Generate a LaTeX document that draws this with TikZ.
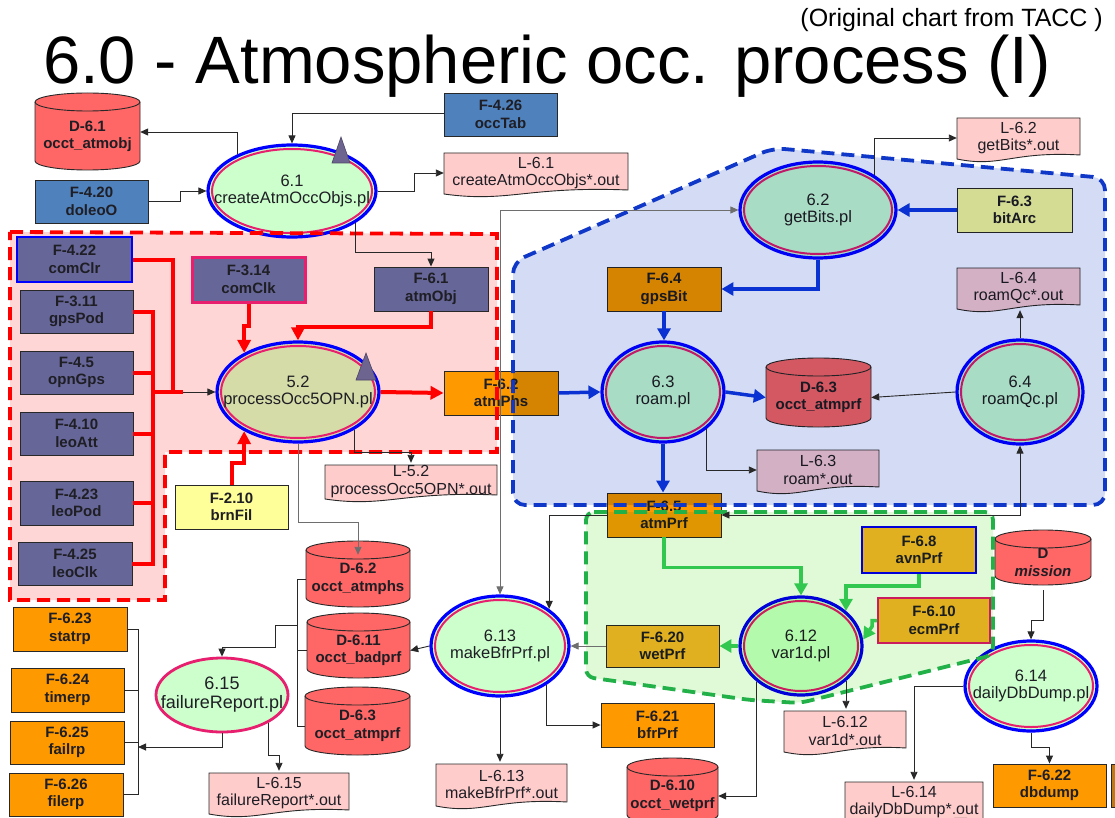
\documentclass[tikz,border=0pt]{standalone}
\usepackage{fontspec}
\setmainfont{Liberation Sans}
\usetikzlibrary{arrows.meta,calc,shapes.geometric}

\definecolor{pinkzone}{RGB}{255,214,214}
\definecolor{bluezone}{RGB}{212,220,245}
\definecolor{greenzone}{RGB}{224,250,216}
\definecolor{zonered}{RGB}{255,0,0}
\definecolor{zoneblue}{RGB}{16,56,200}
\definecolor{zonegreen}{RGB}{34,176,72}
\definecolor{fblue}{RGB}{79,129,189}
\definecolor{slate}{RGB}{102,102,153}
\definecolor{dbred}{RGB}{255,102,102}
\definecolor{docpink}{RGB}{255,204,204}
\definecolor{procgreen}{RGB}{204,255,204}
\definecolor{khaki}{RGB}{214,220,168}
\definecolor{fyellow}{RGB}{255,255,153}
\definecolor{forange}{RGB}{255,153,0}
\definecolor{fgold}{RGB}{255,180,38}
\definecolor{ringblue}{RGB}{0,0,255}
\definecolor{ringred}{RGB}{232,30,110}
\definecolor{tri}{RGB}{110,100,144}
\definecolor{ink}{RGB}{30,30,36}
\definecolor{wire}{RGB}{40,40,40}
\definecolor{greywire}{RGB}{110,110,110}
\definecolor{redwire}{RGB}{255,0,0}
\definecolor{bluewire}{RGB}{10,50,210}
\definecolor{greenwire}{RGB}{50,200,80}

\tikzset{
  boxfont/.style={font=\bfseries\fontsize{15}{17.5}\selectfont},
  procfont/.style={font=\fontsize{16.5}{17.5}\selectfont},
  docfont/.style={font=\fontsize{16}{17.5}\selectfont},
  fbox/.style={rectangle, draw=wire, line width=0.9pt, inner sep=0pt, align=center, text=ink, boxfont},
  dbline/.style={draw=wire, line width=0.9pt},
  dbtext/.style={rectangle, inner sep=0pt, align=center, text=ink, boxfont},
  docline/.style={draw=wire, line width=0.9pt},
  doctext/.style={rectangle, inner sep=0pt, align=center, text=ink, docfont},
  procshape/.style={ellipse, draw=ringblue, line width=3.2pt, inner sep=0pt},
  ringin/.style={draw=ringred, line width=2pt},
  proctext/.style={inner sep=0pt, align=center, text=ink, procfont},
  wireline/.style={draw=wire, line width=0.9pt},
  conn/.style={draw=wire, line width=0.9pt, -{Triangle[length=8pt,width=7pt]}},
  biconn/.style={draw=wire, line width=0.9pt, {Triangle[length=8pt,width=7pt]}-{Triangle[length=8pt,width=7pt]}},
  redw/.style={draw=redwire, line width=4pt},
  redarr/.style={draw=redwire, line width=4pt, -{Triangle[length=13pt,width=13pt]}},
  bluearr/.style={draw=bluewire, line width=3.5pt, -{Triangle[length=12pt,width=13pt]}},
  greenarr/.style={draw=greenwire, line width=3.5pt, -{Triangle[length=12pt,width=13pt]}},
  zone/.style={line width=3.8pt, dash pattern=on 13pt off 7pt},
  marker/.style={fill=tri, draw=tri!70!black, line width=0.6pt}
}

% rectangle file box: name, x1, y1, x2, y2, extra style, text
\newcommand\fnode[7]{%
  \node[fbox, #6, minimum width={#4-#2}, minimum height={#5-#3}] (#1) at ({(#2+#4)/2},{(#3+#5)/2}) {#7};}

% database cylinder: name, x1, y1, x2, y2, fill, text
\newcommand\dbnode[7]{%
  \pgfmathsetmacro\dbrx{(#4-#2)/2}%
  \filldraw[dbline, fill=#6] (#2,#3+9) -- (#2,#5-9)
     arc[start angle=180, end angle=360, x radius=\dbrx pt, y radius=9pt]
     -- (#4,#3+9)
     arc[start angle=0, end angle=180, x radius=\dbrx pt, y radius=9pt] -- cycle;
  \draw[dbline] (#2,#3+9) arc[start angle=180, end angle=360, x radius=\dbrx pt, y radius=9pt];
  \node[dbtext, minimum width={#4-#2}, minimum height={#5-#3}] (#1) at ({(#2+#4)/2},{(#3+#5)/2+5}) {#7};}

% log document with wavy lower edge: name, x1, y1, x2, y2, fill, text
\newcommand\docnode[7]{%
  \filldraw[docline, fill=#6] (#2,#3) -- (#4,#3) -- (#4,#5-7)
     .. controls ({#2+0.45*(#4-#2)},#5-11) and ({#2+0.35*(#4-#2)},#5+6) .. (#2,#5-3) -- cycle;
  \node[doctext, minimum width={#4-#2}, minimum height={#5-#3}] (#1) at ({(#2+#4)/2},{(#3+#5)/2-2}) {#7};}

% process ellipse with double ring: name, cx, cy, rx, ry, fill, text
\newcommand\procnode[7]{%
  \node[procshape, fill=#6, minimum width={2*#4}, minimum height={2*#5}] (#1) at (#2,#3) {};
  \pgfmathsetmacro\rxin{#4-4}\pgfmathsetmacro\ryin{#5-4}%
  \draw[ringin] (#1.center) ellipse [x radius=\rxin pt, y radius=\ryin pt];
  \node[proctext] (#1-label) at (#1.center) {#7};}

\begin{document}
\begin{tikzpicture}[x=1pt,y=-1pt]
\useasboundingbox (0,0) rectangle (1115,818);
\clip (0,0) rectangle (1115,818);
\fill[white] (0,0) rectangle (1115,818);

% heading
\node[anchor=base, inner sep=0pt, font=\fontsize{67}{70}\selectfont] (title) at (547,84) {6.0 - Atmospheric occ. process (I)};
\node[anchor=base east, inner sep=0pt, font=\fontsize{25}{27}\selectfont] (source) at (1103,27) {(Original chart from TACC )};

% pink zone background
\fill[pinkzone] (10,232) -- (497,234) -- (497,452) -- (165,452) -- (165,600) -- (10,600) -- cycle;

% ---------- top area
\fnode{occTab}{444}{93}{557}{136}{fill=fblue}{F-4.26\\occTab}
\dbnode{dbA}{35}{93}{140}{170}{dbred}{D-6.1\\occt\_atmobj}
\fnode{doleoO}{35}{180}{148}{223}{fill=fblue}{F-4.20\\doleoO}
\procnode{pA}{292}{191}{84}{46}{procgreen}{6.1\\createAtmOccObjs.pl}
\fill[marker] (341,137) -- (350,163) -- (332,163) -- cycle;
\docnode{logA}{444}{153}{628}{197}{docpink}{L-6.1\\createAtmOccObjs*.out}

% ---------- pink zone contents
\fnode{comClr}{17}{237}{132}{282}{fill=slate, draw=ringblue, line width=2pt}{F-4.22\\comClr}
\fnode{gpsPod}{20}{290}{133}{333}{fill=slate}{F-3.11\\gpsPod}
\fnode{opnGps}{20}{351}{133}{394}{fill=slate}{F-4.5\\opnGps}
\fnode{leoAtt}{20}{412}{133}{455}{fill=slate}{F-4.10\\leoAtt}
\fnode{leoPod}{20}{481}{133}{525}{fill=slate}{F-4.23\\leoPod}
\fnode{leoClk}{18}{542}{132}{585}{fill=slate}{F-4.25\\leoClk}
\fnode{comClk}{192}{257}{305}{302}{fill=slate, draw=ringred, line width=3pt}{F-3.14\\comClk}
\fnode{atmObj}{374}{267}{488}{311}{fill=slate}{F-6.1\\atmObj}
\procnode{pB}{298}{392}{81}{50}{khaki}{5.2\\processOcc5OPN.pl}
\fill[marker] (366,353) -- (376,380) -- (356,380) -- cycle;
\fnode{brnFil}{175}{485}{288}{529}{fill=fyellow}{F-2.10\\brnFil}
\fnode{atmPhs}{444}{371}{558}{415}{fill=forange}{F-6.2\\atmPhs}
\docnode{logB}{325}{465}{497}{502}{docpink}{L-5.2\\processOcc5OPN*.out}

% ---------- blue zone contents
\docnode{logC}{957}{118}{1080}{162}{docpink}{L-6.2\\getBits*.out}
\procnode{pC}{818}{210}{78}{48}{procgreen}{6.2\\getBits.pl}
\fnode{bitArc}{957}{188}{1072}{232}{fill=fyellow}{F-6.3\\bitArc}
\fnode{gpsBit}{607}{267}{721}{311}{fill=forange}{F-6.4\\gpsBit}
\docnode{logE}{957}{268}{1080}{312}{docpink}{L-6.4\\roamQc*.out}
\procnode{pD}{663}{392}{61}{50}{procgreen}{6.3\\roam.pl}
\dbnode{dbB}{766}{358}{871}{427}{dbred}{D-6.3\\occt\_atmprf}
\procnode{pE}{1020}{392}{63}{52}{procgreen}{6.4\\roamQc.pl}
\docnode{logD}{757}{450}{879}{494}{docpink}{L-6.3\\roam*.out}
\fnode{atmPrf}{607}{493}{721}{537}{fill=forange}{F-6.5\\atmPrf}

% ---------- green zone contents
\fnode{avnPrf}{862}{527}{976}{573}{fill=fgold, draw=ringblue, line width=2pt}{F-6.8\\avnPrf}
\fnode{ecmPrf}{878}{598}{990}{643}{fill=fgold, draw=ringred, line width=2pt}{F-6.10\\ecmPrf}
\procnode{pF}{801}{646}{61}{49}{procgreen}{6.12\\var1d.pl}
\fnode{wetPrf}{606}{625}{719}{667}{fill=fgold}{F-6.20\\wetPrf}

% ---------- lower area
\dbnode{dbM}{995}{530}{1091}{585}{dbred}{D\\\textit{mission}}
\procnode{pH}{1031}{686}{66}{45}{procgreen}{6.14\\dailyDbDump.pl}
\docnode{logF}{784}{711}{906}{755}{docpink}{L-6.12\\var1d*.out}
\docnode{logH}{845}{782}{983}{826}{docpink}{L-6.14\\dailyDbDump*.out}
\fnode{dbdump}{993}{764}{1106}{807}{fill=forange}{F-6.22\\dbdump}
\filldraw[draw=wire, line width=0.9pt, fill={rgb,255:red,190;green,120;blue,20}] (1111,764) rectangle (1130,807);
\procnode{pG}{500}{646}{69}{50}{procgreen}{6.13\\makeBfrPrf.pl}
\fnode{bfrPrf}{601}{703}{714}{747}{fill=forange}{F-6.21\\bfrPrf}
\docnode{logG}{436}{764}{567}{809}{docpink}{L-6.13\\makeBfrPrf*.out}
\dbnode{dbF}{627}{758}{718}{824}{dbred}{D-6.10\\occt\_wetprf}
\dbnode{dbC}{306}{541}{410}{607}{dbred}{D-6.2\\occt\_atmphs}
\dbnode{dbD}{307}{613}{410}{678}{dbred}{D-6.11\\occt\_badprf}
\dbnode{dbE}{305}{687}{410}{755}{dbred}{D-6.3\\occt\_atmprf}
\node[ellipse, draw=ringred, line width=2.8pt, fill=procgreen, inner sep=0pt, minimum width=132, minimum height=74] (pI) at (222,695) {};
\node[proctext, font=\fontsize{18}{19}\selectfont] (pI-label) at (pI.center) {6.15\\failureReport.pl};
\docnode{logI}{209}{773}{349}{817}{docpink}{L-6.15\\failureReport*.out}
\fnode{statrp}{13}{607}{127}{651}{fill=forange}{F-6.23\\statrp}
\fnode{timerp}{11}{668}{124}{712}{fill=forange}{F-6.24\\timerp}
\fnode{failrp}{10}{721}{124}{764}{fill=forange}{F-6.25\\failrp}
\fnode{filerp}{9}{773}{123}{816}{fill=forange}{F-6.26\\filerp}

% ---------- tinted zones laid over their contents
\begin{scope}[blend mode=multiply]
  \fill[bluezone, rounded corners=12pt] (513,505) -- (513,262) -- (773,148) -- (1105,178) -- (1105,505) -- cycle;
  \fill[greenzone, rounded corners=8pt] (586,512) -- (993,512) -- (993,655) -- (800,703) -- (750,700) -- (586,677) -- cycle;
\end{scope}

% zone borders
\draw[zone, draw=zonered] (10,232) -- (497,234) -- (497,452) -- (165,452) -- (165,600) -- (10,600) -- cycle;
\draw[zone, draw=zoneblue, rounded corners=12pt] (513,505) -- (513,262) -- (773,148) -- (1105,178) -- (1105,505) -- cycle;
\draw[zone, draw=zonegreen, rounded corners=8pt] (586,512) -- (993,512) -- (993,655) -- (800,703) -- (750,700) -- (586,677) -- cycle;

% ---------- connectors, top area
\draw[conn] (occTab.west |- 0,113) -| (pA.north);
\draw[conn] (pA.146) |- (dbA.east |- 0,132);
\draw[conn] (doleoO.east) -- ++(32,0) |- (pA.west);
\draw[conn] (pA.east) -- ++(37,0) |- (logA.west);
\draw[conn] (pA.-27) |- (atmObj.north |- 0,252) -- (atmObj.north);
\draw[biconn, draw=greywire] (pC.west) -| (pG.north);

% ---------- connectors, pink zone
\coordinate (bus) at (153,392);
\coordinate (busjoin) at (183,392);
\coordinate (clrdrop) at (173,392);
\draw[redw] (gpsPod.east) -| (bus |- leoClk.east) -- (leoClk.east);
\foreach \n in {opnGps,leoAtt,leoPod} \draw[redw] (\n.east) -- (\n.east -| bus);
\draw[redw] (comClr.east) -| (clrdrop);
\draw[redw] (bus) -- (busjoin);
\draw[conn] (busjoin) -- (pB.west);
\draw[redarr] (comClk.south) -- ++(0,22) -| (pB.144);
\draw[redarr] (atmObj.south) -- ++(0,16) -| (pB.north);
\draw[redarr] (brnFil.north) -- ++(0,-22) -| (pB.216);
\draw[redarr] (pB.east) -- (atmPhs.west);
\draw[conn] (pB.-34) |- (logB.north |- 0,452) -- (logB.north);
\draw[conn, draw=greywire] (pB.south) |- (dbC.north |- 0,522) -- ($(dbC.north)+(0,9)$);

% ---------- connectors, blue zone
\draw[bluearr] (bitArc.west) -- (pC.east);
\draw[conn] (pC.32) |- (logC.west);
\draw[bluearr] (pC.south) |- (gpsBit.east);
\draw[bluearr] (gpsBit.south) -- (gpsBit.south |- pD.north);
\draw[bluearr] (atmPhs.east) -- (pD.west);
\draw[bluearr] (pD.east) -- (dbB.west);
\draw[conn] (pE.west) -- (dbB.east);
\draw[conn] (pE.north) -- (pE.north |- logE.south);
\draw[conn] (pD.-41) |- (logD.west);
\draw[bluearr] (pD.south) -- (pD.south |- atmPrf.north);
\draw[biconn] (atmPrf.east) -| (pE.south);

% ---------- connectors, green zone and below
\draw[greenarr] (atmPrf.south) -- ++(0,30) -| (pF.north);
\draw[greenarr] (avnPrf.south) -- ++(0,12) -| (pF.38);
\draw[greenarr] (ecmPrf.west) -- ++(-5,0) -- ++(0,6) -- (pF.6);
\draw[greenarr] (pF.west) -- (wetPrf.east);
\draw[conn, draw=greywire] (wetPrf.west) -- (pG.east);
\draw[conn] (atmPrf.west) -| (pG.37);
\draw[conn] (pG.west) -- (dbD.east);
\draw[conn] (pG.-40) |- (bfrPrf.west);
\draw[conn] (pG.south) -- (pG.south |- logG.north);
\draw[conn] (pF.-38) -- (pF.-38 |- logF.north);
\draw[conn] (pF.219) |- (dbF.east);
\draw[conn] (dbM.south) -- ++(0,30) -| (pH.north);
\draw[conn] (pH.west) -| (logH.north);
\draw[conn] (pH.south) -- ++(0,15) -| (dbdump.north);

% ---------- connectors, failure report
\coordinate (dsbus) at (297,625);
\coordinate (obus) at (138,747);
\draw[wireline] (dbC.west) -| (dsbus);
\draw[wireline] (dbE.west) -| (dsbus);
\draw[wireline] (dbD.west) -- (dbD.west -| dsbus);
\draw[conn] (dsbus) -- ++(-22,0) -- ++(0,22) -| (pI.north);
\draw[wireline] (statrp.east) -| (obus |- filerp.east) -- (filerp.east);
\draw[wireline] (timerp.east) -- (timerp.east -| obus);
\draw[wireline] (failrp.east) -- (failrp.east -| obus);
\draw[conn] (pI.south) |- (obus);
\draw[conn] (pI.-31) |- (logI.north |- 0,755) -- (logI.north);
\end{tikzpicture}
\end{document}
